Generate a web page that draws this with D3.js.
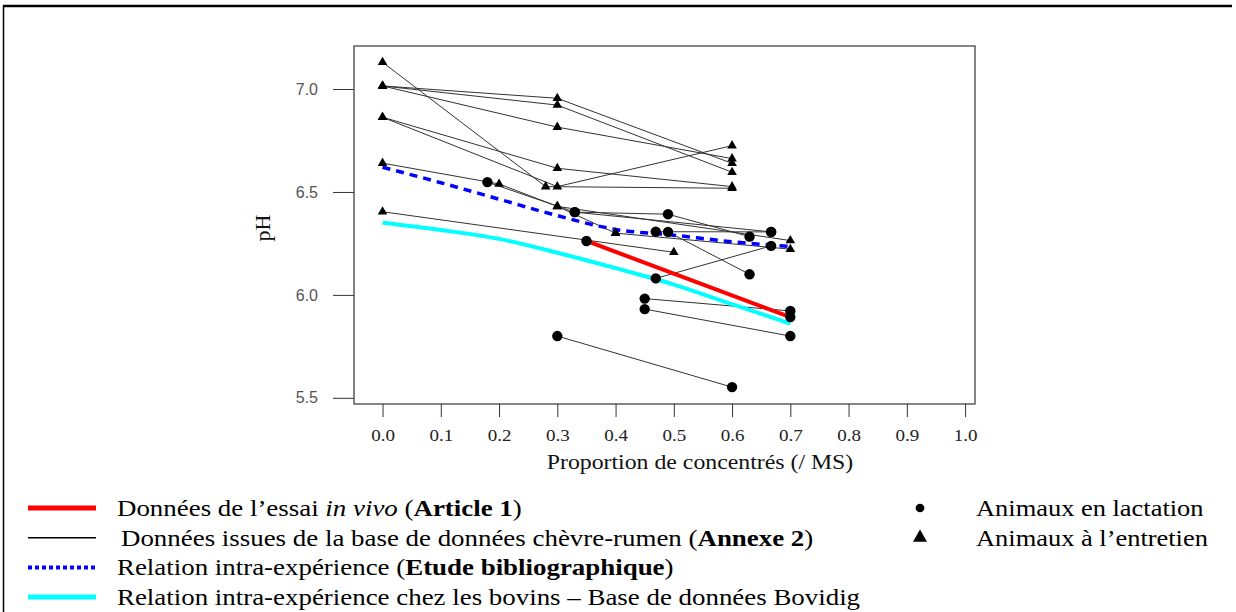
<!DOCTYPE html>
<html>
<head>
<meta charset="utf-8">
<script src="https://cdn.jsdelivr.net/npm/d3@7"></script>
<style>
  body { margin: 0; background: #fff; }
  svg { display: block; }
</style>
</head>
<body>
<svg id="chart" width="1236" height="612"></svg>
<script>
// ticks
const xTicks = [0, 0.1, 0.2, 0.3, 0.4, 0.5, 0.6, 0.7, 0.8, 0.9, 1.0];
const yTicks = [5.5, 6.0, 6.5, 7.0];

// animaux à l'entretien (triangles), une série par expérience
const maintenanceSeries = [
  [[0, 7.13], [0.28, 6.526], [0.6, 6.518]],
  [[0, 7.015], [0.3, 6.955], [0.6, 6.639]],
  [[0, 7.015], [0.3, 6.922], [0.6, 6.596]],
  [[0, 7.015], [0.3, 6.815], [0.6, 6.662]],
  [[0, 6.863], [0.3, 6.615], [0.6, 6.526]],
  [[0, 6.863], [0.3, 6.526], [0.6, 6.725]],
  [[0, 6.64], [0.2, 6.539], [0.3, 6.43], [0.4, 6.30]],
  [[0.3, 6.43], [0.7, 6.264]],
  [[0.4, 6.30], [0.7, 6.222]],
  [[0, 6.404], [0.5, 6.207]]
];

// animaux en lactation (ronds)
const lactationSeries = [
  [[0.18, 6.548], [0.33, 6.402], [0.49, 6.392], [0.63, 6.283]],
  [[0.33, 6.402], [0.667, 6.306]],
  [[0.469, 6.307], [0.667, 6.306]],
  [[0.49, 6.306], [0.63, 6.10]],
  [[0.469, 6.08], [0.667, 6.238]],
  [[0.45, 5.982], [0.7, 5.922]],
  [[0.45, 5.931], [0.7, 5.80]],
  [[0.3, 5.80], [0.6, 5.552]]
];

// essai in vivo (Article 1)
const inVivo = [[0.35, 6.262], [0.7, 5.892]];

// relation intra-expérience (étude bibliographique)
const biblioX = [0, 0.1, 0.2, 0.3, 0.4, 0.5, 0.6, 0.7];
const biblioY = [6.62, 6.545, 6.465, 6.385, 6.318, 6.29, 6.258, 6.235];

// relation intra-expérience bovins (Bovidig)
const bovinX = [0, 0.1, 0.2, 0.3, 0.4, 0.5, 0.6, 0.7];
const bovinY = [6.35, 6.315, 6.272, 6.205, 6.13, 6.05, 5.955, 5.86];

const legendLines = [
  { color: "#ff0000", width: 5, dash: null, parts: [["Données de l’essai ", "normal", "normal"], ["in vivo", "normal", "italic"], [" (", "normal", "normal"], ["Article 1", "bold", "normal"], [")", "normal", "normal"]] },
  { color: "#000", width: 1.5, dash: null, parts: [["Données issues de la base de données chèvre-rumen (", "normal", "normal"], ["Annexe 2", "bold", "normal"], [")", "normal", "normal"]] },
  { color: "#0000ff", width: 4, dash: "4,3", parts: [["Relation intra-expérience (", "normal", "normal"], ["Etude bibliographique", "bold", "normal"], [")", "normal", "normal"]] },
  { color: "#00ffff", width: 5, dash: null, parts: [["Relation intra-expérience chez les bovins – Base de données Bovidig", "normal", "normal"]] }
];
const legendSymbols = [
  { type: "circle", label: "Animaux en lactation" },
  { type: "triangle", label: "Animaux à l’entretien" }
];

const svg = d3.select("#chart");
const serif = "'Liberation Serif', 'Times New Roman', serif";

// cadre extérieur
svg.append("line").attr("x1", 3).attr("x2", 1232).attr("y1", 6).attr("y2", 6)
  .attr("stroke", "#000").attr("stroke-width", 2.5);
svg.append("line").attr("x1", 3.5).attr("x2", 3.5).attr("y1", 5).attr("y2", 612)
  .attr("stroke", "#000").attr("stroke-width", 1.5);

const x = d3.scaleLinear().domain([-0.049, 1.017]).range([354, 975]);
const y = d3.scaleLinear().domain([5.47, 7.209]).range([404, 46]);

// cadre du graphique
svg.append("rect")
  .attr("x", x(-0.049)).attr("y", y(7.209))
  .attr("width", x(1.017) - x(-0.049)).attr("height", y(5.47) - y(7.209))
  .attr("fill", "none").attr("stroke", "#444").attr("stroke-width", 1.3);

// axes
const gx = svg.append("g").attr("transform", `translate(0,${y(5.47)})`)
  .call(d3.axisBottom(x).tickValues(xTicks).tickFormat(d3.format(".1f")).tickSize(13).tickPadding(12));
gx.select(".domain").remove();
gx.selectAll("line").attr("stroke", "#333");
gx.selectAll("text").attr("font-family", serif).attr("font-size", 17).attr("fill", "#222")
  .attr("transform", "scale(1.12,1)");

const gy = svg.append("g").attr("transform", `translate(${x(-0.049)},0)`)
  .call(d3.axisLeft(y).tickValues(yTicks).tickFormat(d3.format(".1f")).tickSize(21).tickPadding(15));
gy.select(".domain").remove();
gy.selectAll("line").attr("stroke", "#333");
gy.selectAll("text").attr("font-family", "'Liberation Sans', Arial, sans-serif").attr("font-size", 16).attr("fill", "#555");

svg.append("text").attr("transform", "translate(700,469) scale(1.19,1)")
  .attr("text-anchor", "middle").attr("font-family", serif).attr("font-size", 20)
  .attr("fill", "#111").text("Proportion de concentrés (/ MS)");
svg.append("text").attr("transform", "translate(270,228) rotate(-90)")
  .attr("text-anchor", "middle").attr("font-family", serif).attr("font-size", 22)
  .attr("fill", "#111").text("pH");

const line = d3.line().x(d => x(d[0])).y(d => y(d[1]));
const curve = d3.line().x(d => x(d[0])).y(d => y(d[1])).curve(d3.curveMonotoneX);

// séries base de données
const series = maintenanceSeries.concat(lactationSeries);
svg.append("g").selectAll("path").data(series).join("path")
  .attr("d", line).attr("fill", "none").attr("stroke", "#333").attr("stroke-width", 1);

// relation bibliographique
svg.append("path").datum(biblioX.map((d, i) => [d, biblioY[i]]))
  .attr("d", curve).attr("fill", "none").attr("stroke", "#0000ff")
  .attr("stroke-width", 3.5).attr("stroke-dasharray", "8,6");

// bovins
svg.append("path").datum(bovinX.map((d, i) => [d, bovinY[i]]))
  .attr("d", curve).attr("fill", "none").attr("stroke", "#00ffff").attr("stroke-width", 4);

// essai in vivo
svg.append("path").datum(inVivo).attr("d", line).attr("fill", "none")
  .attr("stroke", "#ff0000").attr("stroke-width", 4);

// symboles
const tri = d3.symbol().type(d3.symbolTriangle).size(40);
const circ = d3.symbol().type(d3.symbolCircle).size(85);
svg.append("g").selectAll("path").data(maintenanceSeries.flat()).join("path")
  .attr("transform", d => `translate(${x(d[0])},${y(d[1])})`).attr("d", tri).attr("fill", "#000");
svg.append("g").selectAll("path").data(lactationSeries.flat().concat(inVivo)).join("path")
  .attr("transform", d => `translate(${x(d[0])},${y(d[1])})`).attr("d", circ).attr("fill", "#000");

// légende
const lg = svg.append("g");
legendLines.forEach((l, i) => {
  const cy = 508 + i * 29.7;
  lg.append("line").attr("x1", 28).attr("x2", 96).attr("y1", cy).attr("y2", cy)
    .attr("stroke", l.color).attr("stroke-width", l.width)
    .attr("stroke-dasharray", l.dash);
  const t = lg.append("text")
    .attr("transform", `translate(${i === 1 ? 121 : 117},${cy + 8}) scale(1.17,1)`)
    .attr("font-family", serif).attr("font-size", 23).attr("fill", "#000");
  l.parts.forEach(p => t.append("tspan").attr("font-weight", p[1]).attr("font-style", p[2]).text(p[0]));
});
legendSymbols.forEach((s, i) => {
  const cy = 508 + i * 29.7;
  lg.append("path").attr("transform", `translate(920,${cy})`)
    .attr("d", s.type === "circle" ? d3.symbol().type(d3.symbolCircle).size(60)() : d3.symbol().type(d3.symbolTriangle).size(85)())
    .attr("fill", "#000");
  lg.append("text").attr("transform", `translate(976,${cy + 8}) scale(1.15,1)`)
    .attr("font-family", serif).attr("font-size", 23).attr("fill", "#000").text(s.label);
});
</script>
</body>
</html>
